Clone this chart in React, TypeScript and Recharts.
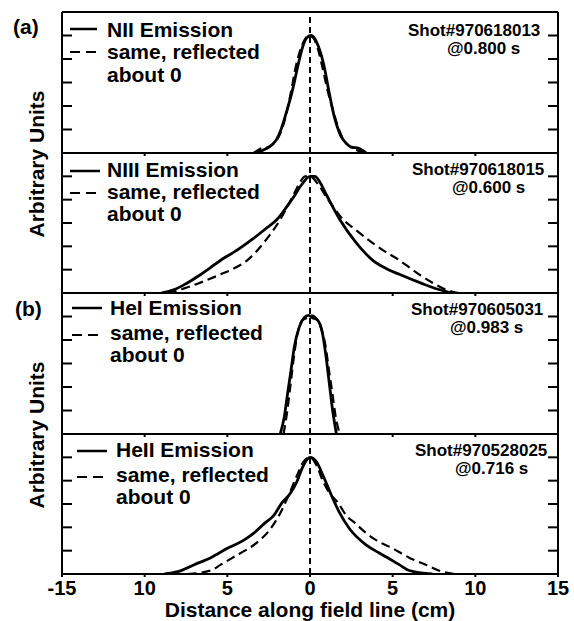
import React from 'react';
import { LineChart, Line, XAxis, YAxis, ReferenceLine } from 'recharts';

// positions along field line (cm) and normalised emission
const nIIPos = [-3.4, -2.9, -2.3, -2.0, -1.75, -1.4, -1.05, -0.75, -0.45, -0.2, 0.05, 0.3, 0.5, 0.85, 1.15, 1.45, 1.85, 2.2, 2.5, 2.95, 3.4];
const nIIVal = [0, 0.02, 0.07, 0.12, 0.2, 0.36, 0.54, 0.73, 0.9, 0.98, 1.0, 0.97, 0.91, 0.74, 0.52, 0.32, 0.15, 0.08, 0.05, 0.04, 0];

const nIIIPos = [-9, -8.2, -7.5, -6.7, -6, -5.2, -4.6, -3.4, -2.6, -2, -1.4, -1, -0.5, 0, 0.3, 0.6, 1, 1.8, 2.8, 3.8, 4.6, 5.4, 6.8, 7.8, 8.6];
const nIIIVal = [0, 0.03, 0.08, 0.15, 0.22, 0.3, 0.35, 0.47, 0.56, 0.63, 0.74, 0.82, 0.93, 1.0, 1.0, 0.95, 0.84, 0.63, 0.43, 0.28, 0.21, 0.16, 0.08, 0.03, 0];

const heIPos = [-1.8, -1.55, -1.35, -1.15, -0.95, -0.65, -0.35, -0.1, 0.15, 0.45, 0.75, 0.97, 1.17, 1.37, 1.6];
const heIVal = [0, 0.15, 0.35, 0.54, 0.74, 0.91, 0.99, 1.01, 0.99, 0.97, 0.86, 0.66, 0.43, 0.2, 0];

const heIIPos = [-8.8, -8, -7, -6, -5, -4, -3.4, -2.7, -2.2, -1.7, -1.2, -0.8, -0.4, 0, 0.4, 0.8, 1.37, 1.77, 2.38, 3.39, 4.19, 4.8, 5.4, 6, 7.4];
const heIIVal = [0, 0.02, 0.08, 0.14, 0.22, 0.29, 0.35, 0.44, 0.5, 0.61, 0.69, 0.79, 0.93, 1.0, 0.96, 0.84, 0.65, 0.53, 0.39, 0.25, 0.18, 0.13, 0.08, 0.03, 0];

const xTicks = [-15, -10, -5, 0, 5, 10, 15];
const xTickLabels = ['-15', '10', '5', '0', '5', '10', '15'];
const minorXTicks = [-10, -5, 5, 10];
const yTicks = [0.2, 0.4, 0.6, 0.8, 1.0];

const W = 574;
const H = 621;
const FONT = "'Liberation Sans', Arial, Helvetica, sans-serif";

const panels = [
  {
    top: 12, bottom: 153, pos: nIIPos, val: nIIVal,
    name: 'NII Emission', shot: 'Shot#970618013', time: '@0.800 s',
    lx1: 70, lx2: 97, solidY: 29, dashY: 52, tx: 107, rows: [36.5, 59, 81.5],
    sx: 408, sy: 35.5, ux: 447, uy: 53.5,
  },
  {
    top: 153, bottom: 293, pos: nIIIPos, val: nIIIVal,
    name: 'NIII Emission', shot: 'Shot#970618015', time: '@0.600 s',
    lx1: 70, lx2: 100, solidY: 171, dashY: 193, tx: 107, rows: [177, 199, 221],
    sx: 412, sy: 174.5, ux: 452, uy: 192.5,
  },
  {
    top: 293, bottom: 434, pos: heIPos, val: heIVal,
    name: 'HeI Emission', shot: 'Shot#970605031', time: '@0.983 s',
    lx1: 72, lx2: 102, solidY: 308, dashY: 335, tx: 110, rows: [315, 340, 362],
    sx: 411, sy: 315, ux: 450, uy: 333,
  },
  {
    top: 434, bottom: 574, pos: heIIPos, val: heIIVal,
    name: 'HeII Emission', shot: 'Shot#970528025', time: '@0.716 s',
    lx1: 77, lx2: 107, solidY: 451, dashY: 477, tx: 116, rows: [457, 482, 504],
    sx: 415, sy: 456, ux: 455, uy: 474,
  },
];

const border = { stroke: '#000', strokeWidth: 2 };
// tick marks only, no labels
const NoTick = () => <g />;

function Panel({ p, last }: { p: typeof panels[number]; last: boolean }) {
  const axisH = last ? 30 : 6;
  const solid = p.pos.map((x, i) => ({ x, y: p.val[i] }));
  // "same, reflected about 0"
  const reflected = p.pos.map((x, i) => ({ x: -x, y: p.val[i] })).reverse();
  return (
    <div style={{ position: 'absolute', left: 0, top: 0 }}>
      <LineChart
        width={W}
        height={H}
        margin={{ top: p.top, bottom: H - p.bottom - axisH, left: 62, right: W - 558 }}
      >
        <XAxis
          dataKey="x"
          type="number"
          domain={[-15, 15]}
          allowDataOverflow
          ticks={last ? xTicks : minorXTicks}
          interval={0}
          height={axisH}
          tickSize={3}
          tickMargin={4}
          axisLine={border}
          tickLine={border}
          tick={last ? { fill: '#000', fontSize: 20, fontWeight: 'bold', fontFamily: FONT } : NoTick}
          tickFormatter={(v: number) => xTickLabels[xTicks.indexOf(v)] ?? ''}
        />
        <XAxis
          xAxisId="top"
          orientation="top"
          mirror
          type="number"
          domain={[-15, 15]}
          allowDataOverflow
          ticks={minorXTicks}
          interval={0}
          height={6}
          tickSize={3}
          axisLine={border}
          tickLine={border}
          tick={NoTick}
        />
        <YAxis
          type="number"
          domain={[0, 1.2]}
          allowDataOverflow
          ticks={yTicks}
          interval={0}
          mirror
          width={12}
          tickSize={10}
          axisLine={border}
          tickLine={border}
          tick={NoTick}
        />
        <YAxis
          yAxisId="r"
          orientation="right"
          type="number"
          domain={[0, 1.2]}
          allowDataOverflow
          ticks={yTicks}
          interval={0}
          mirror
          width={12}
          tickSize={10}
          axisLine={border}
          tickLine={border}
          tick={NoTick}
        />
        <ReferenceLine x={0} stroke="#000" strokeWidth={2} strokeDasharray="6 4" />
        <Line data={reflected} dataKey="y" type="monotone" dot={false} stroke="#000" strokeWidth={2.2} strokeDasharray="9 5" isAnimationActive={false} />
        <Line data={solid} dataKey="y" type="monotone" dot={false} stroke="#000" strokeWidth={2.8} isAnimationActive={false} />
      </LineChart>
    </div>
  );
}

export default function App() {
  return (
    <div style={{ position: 'absolute', left: 0, top: 0, width: W, height: H, background: '#fff' }}>
      {panels.map((p, i) => (
        <Panel key={p.name} p={p} last={i === panels.length - 1} />
      ))}
      <svg
        width={W}
        height={H}
        style={{ position: 'absolute', left: 0, top: 0, pointerEvents: 'none' }}
        fontFamily={FONT}
        fontWeight="bold"
        fill="#000"
      >
        <text x={13} y={34} fontSize={21}>(a)</text>
        <text x={15} y={316} fontSize={21}>(b)</text>
        <text transform="translate(44,164) rotate(-90)" textAnchor="middle" fontSize={21}>Arbitrary Units</text>
        <text transform="translate(44,435) rotate(-90)" textAnchor="middle" fontSize={21}>Arbitrary Units</text>
        <text x={310} y={617} textAnchor="middle" fontSize={21}>Distance along field line (cm)</text>
        {panels.map((p) => (
          <g key={p.shot}>
            <line x1={p.lx1} x2={p.lx2} y1={p.solidY} y2={p.solidY} stroke="#000" strokeWidth={2.5} />
            <line x1={p.lx1} x2={p.lx2} y1={p.dashY} y2={p.dashY} stroke="#000" strokeWidth={2} strokeDasharray="10 6" />
            <text x={p.tx} y={p.rows[0]} fontSize={21}>{p.name}</text>
            <text x={p.tx} y={p.rows[1]} fontSize={21}>same, reflected</text>
            <text x={p.tx} y={p.rows[2]} fontSize={21}>about 0</text>
            <text x={p.sx} y={p.sy} fontSize={17}>{p.shot}</text>
            <text x={p.ux} y={p.uy} fontSize={17}>{p.time}</text>
          </g>
        ))}
      </svg>
    </div>
  );
}
